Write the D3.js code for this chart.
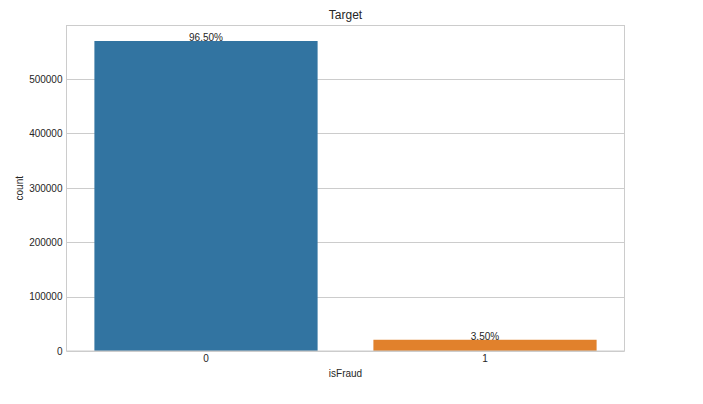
<!DOCTYPE html>
<html><head><meta charset="utf-8">
<script src="https://cdn.jsdelivr.net/npm/d3@7"></script>
<style>body{margin:0;background:#fff;} text{font-family:"Liberation Sans",Arial,sans-serif;fill:#262626;}</style>
</head><body><svg id="c" width="703" height="404"></svg>
<script>
const categories = ["0", "1"];
const counts = [569877, 20663];
const pctLabels = ["96.50%", "3.50%"];
const yTicks = [0, 100000, 200000, 300000, 400000, 500000];
const colors = ["#3274a1", "#e1812c"];

const svg = d3.select("#c");
const L = 66.5, R = 624.5, T = 25.5, B = 351;
const x = d3.scaleBand().domain(categories).range([L, R]).paddingInner(0.2).paddingOuter(0.1);
const y = d3.scaleLinear().domain([0, 598371]).range([B, T]);

// grid
svg.append("g").selectAll("line").data(yTicks).join("line")
  .attr("x1", L).attr("x2", R).attr("y1", d => Math.round(y(d)) + 0.5).attr("y2", d => Math.round(y(d)) + 0.5)
  .attr("stroke", "#cccccc").attr("stroke-width", 1);

// bars
svg.append("g").selectAll("rect").data(counts).join("rect")
  .attr("x", (d, i) => x(categories[i])).attr("width", x.bandwidth())
  .attr("y", d => y(d)).attr("height", d => B - y(d))
  .attr("fill", (d, i) => colors[i]);

// frame
svg.append("rect").attr("x", L).attr("y", T).attr("width", R - L).attr("height", B - T)
  .attr("fill", "none").attr("stroke", "#cccccc").attr("stroke-width", 1);

// y axis
const yAxis = d3.axisLeft(y).tickValues(yTicks).tickSize(0).tickPadding(4).tickFormat(d3.format("d"));
const gy = svg.append("g").attr("transform", `translate(${L},0)`).call(yAxis);
gy.select(".domain").remove();
gy.selectAll("text").style("font-size", "10px").attr("fill", "#262626").style("font-family", "Liberation Sans, Arial, sans-serif");

// x axis
const xAxis = d3.axisBottom(x).tickSize(0).tickPadding(4);
const gx = svg.append("g").attr("transform", `translate(0,${B})`).call(xAxis);
gx.select(".domain").remove();
gx.selectAll("text").style("font-size", "10px").attr("fill", "#262626").style("font-family", "Liberation Sans, Arial, sans-serif");

// percentage labels
svg.append("g").selectAll("text").data(counts).join("text")
  .attr("x", (d, i) => x(categories[i]) + x.bandwidth() / 2).attr("y", d => y(d))
  .attr("text-anchor", "middle").style("font-size", "10px").text((d, i) => pctLabels[i]);

// titles
svg.append("text").attr("x", (L + R) / 2).attr("y", 19).attr("text-anchor", "middle").style("font-size", "12px").text("Target");
svg.append("text").attr("x", (L + R) / 2).attr("y", 377).attr("text-anchor", "middle").style("font-size", "10px").text("isFraud");
svg.append("text").attr("transform", `translate(23,${(T + B) / 2}) rotate(-90)`).attr("text-anchor", "middle").style("font-size", "10px").text("count");
</script></body></html>
